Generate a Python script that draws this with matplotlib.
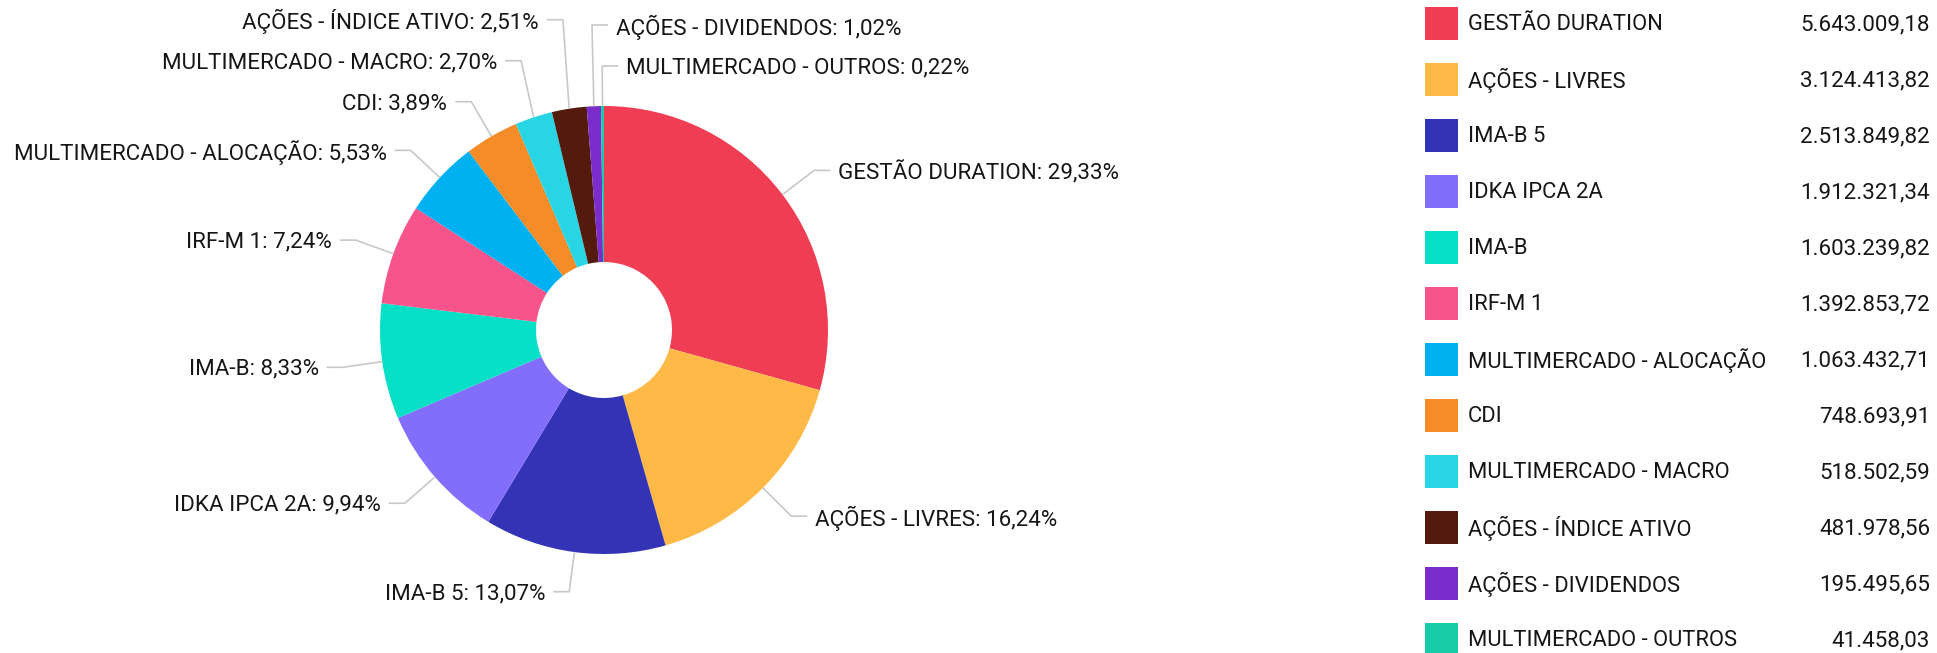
import matplotlib
matplotlib.use("Agg")
import math
import matplotlib.pyplot as plt
from matplotlib.patches import Rectangle

# data
categories = [
    "GESTÃO DURATION", "AÇÕES - LIVRES", "IMA-B 5", "IDKA IPCA 2A", "IMA-B",
    "IRF-M 1", "MULTIMERCADO - ALOCAÇÃO", "CDI", "MULTIMERCADO - MACRO",
    "AÇÕES - ÍNDICE ATIVO", "AÇÕES - DIVIDENDOS", "MULTIMERCADO - OUTROS",
]
values = [
    5643009.18, 3124413.82, 2513849.82, 1912321.34, 1603239.82, 1392853.72,
    1063432.71, 748693.91, 518502.59, 481978.56, 195495.65, 41458.03,
]
colors = [
    "#EF3D54", "#FFB946", "#3333B5", "#836EFB", "#07E0C7", "#F8548C",
    "#00B1F2", "#F68C28", "#27D5E4", "#541A0D", "#7B2DCB", "#19CCA9",
]
# which side of the pie each label sits on
label_side = ["R", "R", "L", "L", "L", "L", "L", "L", "L", "L", "R", "R"]

W, H = 1937, 653
FONT = "Roboto"
FS = 16.1
TXT = "#161616"


def br_number(v, nd=2):
    s = f"{v:,.{nd}f}"
    return s.replace(",", "X").replace(".", ",").replace("X", ".")


fig = plt.figure(figsize=(W / 100, H / 100), dpi=100)
ax = fig.add_axes([0, 0, 1, 1])

# pie in pixel coords (y down)
cx, cy, R, r_in = 604, 330, 224, 68
ax.pie(values, colors=colors, startangle=-90, counterclock=True,
       radius=R, center=(cx, cy),
       wedgeprops=dict(width=R - r_in, linewidth=0, antialiased=True))
ax.set_xlim(0, W)
ax.set_ylim(H, 0)
ax.set_aspect("equal")
ax.set_axis_off()

total = sum(values)
pcts = [v / total * 100 for v in values]

# label anchors: radial tick then horizontal segment
ext, seg, gap_txt, min_dy = 40, 16, 8, 41
mids = []
acc = 0.0
for p in pcts:
    mids.append((acc + p / 2) * 3.6)  # degrees clockwise from top
    acc += p

info = []
for i, a in enumerate(mids):
    t = math.radians(a)
    edge = (cx + R * math.sin(t), cy - R * math.cos(t))
    elb = (cx + (R + ext) * math.sin(t), cy - (R + ext) * math.cos(t))
    info.append({"i": i, "a": a, "edge": edge, "ex": elb[0], "ey": elb[1]})

for side in ("R", "L"):
    items = [d for d in info if label_side[d["i"]] == side]
    if side == "R":
        items.sort(key=lambda d: d["a"] if d["a"] <= 180 else d["a"] - 360)
    else:
        items.sort(key=lambda d: -d["a"])
    # push labels upward so they do not overlap
    for k in range(len(items) - 2, -1, -1):
        items[k]["ey"] = min(items[k]["ey"], items[k + 1]["ey"] - min_dy)

for d in info:
    i = d["i"]
    s = 1 if label_side[i] == "R" else -1
    x0, y0 = d["edge"]
    ex, ey = d["ex"], d["ey"]
    ax.plot([x0, ex, ex + s * seg], [y0, ey, ey], color="#c8c8c8", lw=1.2,
            solid_capstyle="butt", zorder=1)
    ax.text(ex + s * (seg + gap_txt), ey + 2,
            f"{categories[i]}: {br_number(pcts[i])}%",
            ha="left" if s > 0 else "right", va="center",
            fontsize=FS, family=FONT, color=TXT)

# legend with values
leg_x, leg_top, pitch, sw = 1425, 7, 56, 33
for i, (name, v, c) in enumerate(zip(categories, values, colors)):
    top = leg_top + pitch * i
    ax.add_patch(Rectangle((leg_x, top), sw, sw, facecolor=c, edgecolor="none",
                           clip_on=False))
    ax.text(leg_x + 43, top + sw / 2 + 1, name, ha="left", va="center",
            fontsize=FS - 0.3, family=FONT, color=TXT)
    ax.text(1930, top + sw / 2 + 1, br_number(v), ha="right", va="center",
            fontsize=FS, family=FONT, color=TXT)

fig.savefig("out.png", dpi=100, facecolor="white")
